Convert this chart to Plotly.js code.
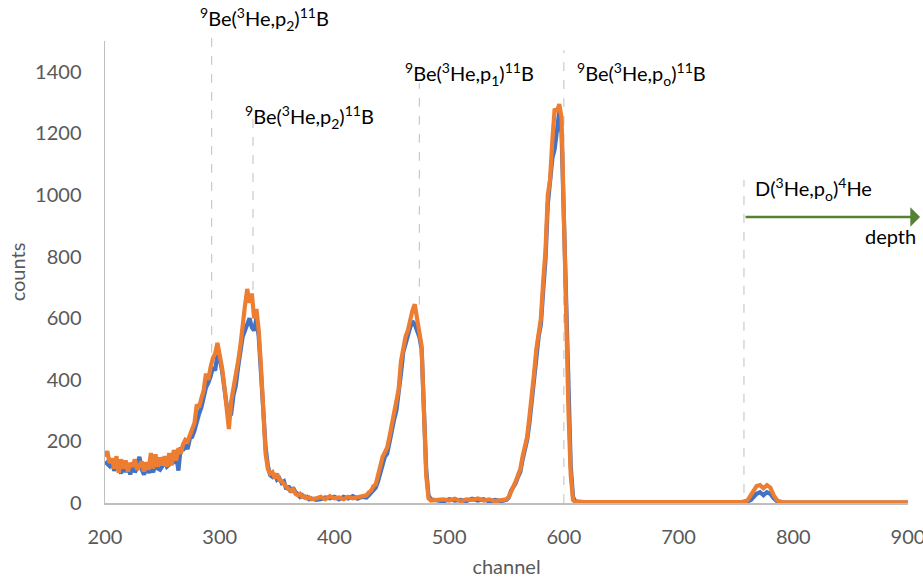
<!DOCTYPE html>
<html>
<head>
<meta charset="utf-8">
<script src="https://cdn.plot.ly/plotly-3.0.1.min.js"></script>
<style>html,body{margin:0;padding:0;background:#fff}#chart{width:923px;height:583px}</style>
</head>
<body>
<div id="chart"></div>
<script>
// channel numbers
var channel = [
200,202,204,206,208,210,212,214,216,218,220,222,224,226,228,230,232,234,236,238,
240,242,244,246,248,250,252,254,256,258,260,262,264,266,268,270,272,274,276,278,
280,282,284,286,288,290,292,294,296,298,300,302,304,306,308,310,312,314,316,318,
320,322,324,326,328,330,332,334,336,338,340,342,344,346,348,350,352,354,356,358,
360,362,364,366,368,370,372,374,376,378,380,384,388,392,396,400,404,408,412,416,
420,424,428,430,432,434,436,438,440,442,444,446,448,450,452,454,456,458,460,462,
464,466,468,470,472,474,476,478,480,482,484,490,495,500,505,510,515,520,525,530,
535,540,545,550,552,554,556,558,560,562,564,566,568,570,572,574,576,578,580,582,
584,586,588,590,592,594,596,598,600,602,604,606,608,610,620,640,660,680,700,720,
740,755,760,763,766,768,771,774,777,780,783,786,790,820,850,880,900
];
// counts, series 1 (blue)
var countsBlue = [
135,125,120,135,105,125,120,95,135,100,125,92,130,100,115,150,110,92,120,98,
115,100,130,112,108,120,138,118,125,140,128,160,105,180,170,190,175,210,215,235,
270,290,310,340,375,390,410,440,430,480,470,430,370,320,290,290,350,380,440,490,
540,560,580,600,570,560,600,540,420,300,180,120,90,85,95,75,80,65,70,45,
55,35,50,35,30,20,25,18,20,12,15,10,12,18,15,20,12,20,15,22,
14,20,18,25,35,40,50,70,100,130,150,160,200,230,270,300,350,420,490,520,
545,570,590,580,560,540,500,320,110,25,12,8,5,12,8,10,6,14,8,12,
5,10,6,10,18,40,50,65,85,100,140,170,205,260,340,400,470,540,580,690,
790,970,1040,1120,1150,1200,1270,1200,950,650,340,120,20,5,2,2,3,2,1,2,
2,2,5,10,22,30,35,25,35,30,15,5,2,2,1,2,1
];
// counts, series 2 (orange)
var countsOrange = [
150,168,130,145,112,152,98,142,112,138,102,130,118,142,108,125,135,102,132,108,
162,112,158,118,148,122,152,118,162,122,172,138,178,160,190,205,200,220,240,260,
320,310,340,365,420,400,440,470,485,520,480,440,380,300,240,330,370,410,460,510,
590,640,695,650,680,600,630,560,440,280,160,110,95,100,80,95,75,70,60,55,
45,40,45,30,25,30,20,22,15,18,12,15,20,12,22,15,18,12,20,15,
18,22,25,35,40,55,60,90,120,150,165,180,215,250,290,320,370,460,510,540,
560,600,625,645,600,540,510,300,90,15,8,10,12,8,14,6,12,10,15,8,
12,6,10,12,20,35,55,70,90,110,150,180,215,280,370,420,500,560,600,720,
820,1000,1050,1180,1280,1270,1295,1250,900,600,300,90,10,3,3,4,2,3,2,3,
2,3,8,25,45,55,58,48,58,50,25,8,3,3,2,2,2
];
// reaction labels and the channels of their marker lines
var labelText = [
  "<sup>9</sup>Be(<sup>3</sup>He,p<sub>2</sub>)<sup>11</sup>B",
  "<sup>9</sup>Be(<sup>3</sup>He,p<sub>2</sub>)<sup>11</sup>B",
  "<sup>9</sup>Be(<sup>3</sup>He,p<sub>1</sub>)<sup>11</sup>B",
  "<sup>9</sup>Be(<sup>3</sup>He,p<sub>o</sub>)<sup>11</sup>B",
  "D(<sup>3</sup>He,p<sub>o</sub>)<sup>4</sup>He"
];
var labelChannel = [293, 329, 474, 600, 757];
var xTicks = [200,300,400,500,600,700,800,900];
var yTicks = [0,200,400,600,800,1000,1200,1400];

// layout-only positions (paper coordinates)
var lineTop = [1.026, 0.835, 0.909, 0.98, 0.699];
var lineBot = [0.325, 0.461, 0.429, 0.0, 0.022];
var labelX = [0.116, 0.172, 0.371, 0.585, 0.807];
var labelY = [1.048, 0.835, 0.929, 0.929, 0.680];

var FONT = 'Lato, "Open Sans", sans-serif';

var traces = [
  {x: channel, y: countsBlue, type: 'scatter', mode: 'lines', name: 'series 1',
   line: {color: '#4472C4', width: 4.2}},
  {x: channel, y: countsOrange, type: 'scatter', mode: 'lines', name: 'series 2',
   line: {color: '#ED7D31', width: 4.2}}
];

var shapes = labelChannel.map(function (c, i) {
  return {type: 'line', xref: 'x', yref: 'paper', x0: c, x1: c, y0: lineBot[i], y1: lineTop[i],
          line: {color: '#BFBFBF', width: 1, dash: 'dash'}, layer: 'below'};
});

var annotations = labelText.map(function (t, i) {
  return {text: t, xref: 'paper', yref: 'paper', x: labelX[i], y: labelY[i],
          xanchor: 'left', yanchor: 'middle', showarrow: false,
          font: {family: FONT, size: 20, color: '#000'}};
});
annotations.push({text: '', xref: 'paper', yref: 'paper', x: 1.015, y: 0.619,
  axref: 'pixel', ayref: 'pixel', ax: -176, ay: 0, showarrow: true,
  arrowhead: 1, arrowsize: 1.3, arrowwidth: 2.5, arrowcolor: '#548235'});
annotations.push({text: 'depth', xref: 'paper', yref: 'paper', x: 1.012, y: 0.578,
  xanchor: 'right', yanchor: 'middle', showarrow: false,
  font: {family: FONT, size: 20, color: '#000'}});

var layout = {
  width: 923, height: 583,
  margin: {l: 105, r: 15, t: 41, b: 80},
  paper_bgcolor: '#fff', plot_bgcolor: '#fff',
  showlegend: false,
  font: {family: FONT, size: 20, color: '#595959'},
  xaxis: {range: [200, 900], tickvals: xTicks, showgrid: false, zeroline: false,
          showline: true, linecolor: '#BFBFBF', linewidth: 1.5, ticks: '',
          ticklabelstandoff: 15, ticklabeloverflow: 'allow',
          tickfont: {family: FONT, size: 20, color: '#595959'},
          title: {text: 'channel', standoff: 13, font: {family: FONT, size: 20, color: '#595959'}}},
  yaxis: {range: [0, 1500], tickvals: yTicks, showgrid: false, zeroline: false,
          showline: true, linecolor: '#BFBFBF', linewidth: 1.5, ticks: '',
          ticklabelstandoff: 18,
          tickfont: {family: FONT, size: 20, color: '#595959'},
          title: {text: 'counts', standoff: 4, font: {family: FONT, size: 20, color: '#595959'}}},
  shapes: shapes,
  annotations: annotations
};

Plotly.newPlot('chart', traces, layout, {displayModeBar: false, staticPlot: true});
</script>
</body>
</html>
